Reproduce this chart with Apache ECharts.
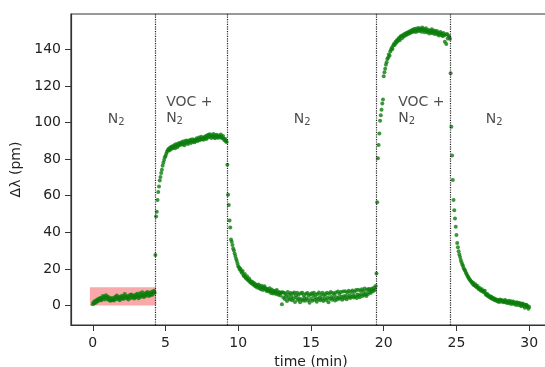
<!DOCTYPE html>
<html>
<head>
<meta charset="utf-8">
<script src="https://cdn.jsdelivr.net/npm/echarts@6/dist/echarts.min.js"></script>
<style>
    html, body { margin: 0; padding: 0; background: #fff; }
    #chart { width: 545px; height: 367px; }
</style>
</head>
<body>
<div id="chart"></div>
<script>
// sampling interval of the recording (min)
const SAMPLE_STEP = 0.05;

// wavelength shift, one row per minute (20 samples each)
const deltaLambda = [
    0.6, 1.8, 1.2, 2.4, 1.5, 2.9, 2.2, 3.4, 2.6, 3.8, 3.1, 4.2, 2.8, 3.6, 5.1, 4.0, 4.6, 3.3, 5.6, 4.2,
    4.9, 3.7, 3.0, 4.4, 2.6, 3.5, 2.9, 4.1, 3.2, 2.7, 3.9, 4.8, 3.4, 5.5, 4.2, 3.6, 4.7, 2.9, 3.8, 4.5,
    5.3, 4.0, 3.5, 4.9, 6.2, 4.6, 3.9, 5.2, 4.4, 3.3, 4.8, 5.7, 4.1, 6.0, 5.0, 4.3, 5.4, 3.8, 4.6, 5.9,
    4.5, 6.4, 5.2, 3.9, 5.0, 6.6, 4.8, 5.7, 7.2, 5.5, 4.6, 6.1, 5.0, 6.8, 5.9, 7.4, 6.3, 5.1, 6.9, 5.6,
    6.2, 7.5, 5.8, 7.0, 8.1, 6.9, 27.6, 48.6, 51.2, 57.7, 62.0, 65.1, 68.4, 70.3, 72.5, 74.2, 76.4, 78.0, 79.6, 81.0,
    81.8, 83.0, 84.1, 84.9, 85.6, 84.7, 86.2, 85.3, 86.8, 85.9, 87.1, 86.4, 87.6, 86.0, 88.1, 87.2, 86.5, 88.4, 87.5, 88.9,
    87.8, 88.6, 89.3, 88.0, 89.7, 88.4, 87.6, 89.9, 88.9, 90.2, 89.1, 88.3, 90.0, 89.4, 90.6, 88.8, 89.8, 90.9, 89.5, 90.3,
    89.2, 90.8, 90.1, 91.4, 89.9, 90.7, 91.8, 90.4, 91.2, 92.3, 90.9, 91.6, 90.6, 92.0, 91.3, 92.6, 91.0, 92.9, 91.7, 93.3,
    92.2, 93.6, 92.5, 91.6, 93.1, 92.4, 93.8, 92.0, 91.4, 92.8, 93.4, 92.1, 91.7, 93.0, 92.6, 91.9, 93.5, 92.3, 91.5, 92.7,
    91.3, 90.4, 91.0, 89.8, 89.4, 77.0, 60.5, 55.0, 46.5, 42.6, 36.0, 34.8, 33.0, 31.2, 30.0, 28.4, 27.0, 25.5, 24.3, 22.8,
    21.5, 20.8, 19.6, 20.1, 18.5, 17.9, 18.8, 16.7, 16.0, 17.2, 15.3, 14.8, 15.9, 14.0, 13.6, 14.7, 12.8, 13.3, 12.2, 13.0,
    11.6, 12.4, 10.9, 11.8, 10.3, 11.2, 9.8, 10.7, 11.5, 9.4, 10.2, 8.9, 10.8, 9.6, 8.5, 9.9, 10.5, 8.8, 9.3, 7.9,
    9.0, 8.2, 7.6, 9.4, 8.0, 6.8, 8.7, 7.3, 6.5, 8.1, 7.0, 7.8, 6.2, 8.4, 6.9, 5.8, 7.4, 6.6, 5.5, 7.1,
    0.6, 7.2, 4.4, 6.9, 3.5, 6.2, 5.0, 2.4, 7.4, 4.1, 6.0, 3.3, 6.8, 4.8, 2.9, 6.5, 3.9, 7.1, 1.9, 5.6,
    4.2, 6.9, 3.0, 5.9, 3.6, 1.7, 6.6, 3.4, 7.0, 2.7, 5.6, 4.0, 2.5, 6.4, 3.8, 6.8, 2.9, 5.3, 1.5, 6.1,
    3.5, 6.7, 2.6, 5.2, 7.0, 3.1, 5.9, 4.0, 2.0, 6.3, 3.4, 7.1, 4.3, 2.8, 5.8, 3.7, 6.9, 2.4, 5.5, 3.6,
    6.2, 3.0, 6.9, 4.3, 1.8, 6.4, 3.6, 7.3, 4.6, 3.1, 6.8, 4.0, 6.0, 2.7, 7.1, 4.5, 3.3, 7.6, 4.2, 6.3,
    3.7, 7.4, 4.8, 3.1, 7.6, 5.0, 3.9, 7.8, 5.3, 3.4, 7.1, 4.5, 8.0, 5.5, 4.1, 7.4, 4.8, 8.2, 5.7, 4.3,
    7.5, 4.9, 8.4, 4.0, 6.0, 8.6, 5.4, 4.5, 8.0, 6.1, 8.9, 5.1, 7.7, 5.8, 9.2, 6.4, 5.2, 8.5, 6.0, 9.0,
    7.2, 8.8, 6.8, 8.0, 9.2, 7.6, 8.6, 9.8, 8.4, 10.6, 17.5, 56.5, 80.5, 87.7, 94.0, 101.0, 104.0, 107.0, 110.5, 112.7,
    125.3, 127.5, 129.4, 131.6, 133.0, 134.8, 135.5, 137.2, 136.6, 138.9, 139.8, 141.0, 140.3, 142.2, 143.0, 142.4, 144.1, 143.6, 145.0, 144.4,
    145.6, 146.3, 145.1, 146.9, 147.4, 146.2, 147.8, 147.0, 148.3, 147.5, 148.8, 147.9, 149.2, 148.4, 149.6, 148.7, 150.0, 149.1, 150.4, 149.5,
    150.8, 149.8, 151.2, 150.3, 149.6, 151.5, 150.6, 149.9, 151.8, 150.9, 150.2, 151.3, 149.7, 152.0, 150.7, 151.1, 149.4, 150.5, 151.6, 150.0,
    149.3, 150.8, 149.9, 148.7, 150.2, 149.5, 151.0, 148.9, 149.7, 150.4, 148.4, 149.8, 148.9, 150.1, 148.2, 149.3, 147.6, 148.8, 149.6, 147.9,
    148.6, 147.3, 149.0, 147.7, 144.2, 148.2, 143.0, 148.5, 146.0, 147.6, 146.8, 145.9, 127.0, 97.8, 82.0, 68.6, 57.7, 52.0, 47.5, 43.0,
    38.5, 34.2, 31.8, 29.6, 27.9, 26.5, 24.8, 23.6, 22.4, 21.6, 20.4, 19.5, 19.0, 17.9, 17.2, 16.3, 15.6, 15.0, 14.2, 13.8,
    13.1, 12.8, 11.9, 12.4, 11.2, 10.9, 11.6, 10.3, 9.9, 10.6, 9.4, 8.8, 9.6, 8.5, 8.1, 8.9, 7.6, 7.9, 7.2, 8.0,
    6.2, 5.7, 6.4, 5.1, 5.6, 4.6, 5.0, 4.1, 4.7, 3.6, 4.2, 3.2, 3.8, 2.9, 3.4, 2.6, 3.1, 2.2, 2.8, 1.9,
    3.2, 2.5, 2.9, 2.0, 2.7, 1.8, 2.4, 3.0, 1.6, 2.2, 1.3, 2.0, 2.6, 1.1, 1.8, 2.3, 0.8, 1.5, 2.1, 1.0,
    1.6, 0.4, 1.3, 1.8, 0.2, 1.1, 1.5, 0.3, 1.0, -0.5, 0.6, 1.1, -0.2, 0.5, -1.2, 0.2, 0.4, -0.9, -0.3, -1.8,
    -0.8,
];

// gas switching times (min)
const switchTimes = [4.28, 9.21, 19.52, 24.58];

// baseline window highlighted in red: [time, dλ] corners
const baselineBox = [[-0.2, 0], [4.35, 10]];

// phase annotations: [time, dλ, text, align]
const phaseLabels = [
    [1.6, 102, 'N{s|2}', 'center'],
    [5.04, 106.7, 'VOC +\nN{s|2}', 'left'],
    [14.4, 102, 'N{s|2}', 'center'],
    [21.0, 106.7, 'VOC +\nN{s|2}', 'left'],
    [27.6, 102, 'N{s|2}', 'center'],
];

const xTicks = [0, 5, 10, 15, 20, 25, 30];
const yTicks = [0, 20, 40, 60, 80, 100, 120, 140];

const FONT = 'DejaVu Sans';
const TEXT_COLOR = '#222';
const AXIS_COLOR = '#333';

const points = deltaLambda.map((v, i) => [Number((i * SAMPLE_STEP).toFixed(2)), v]);

const chart = echarts.init(document.getElementById('chart'), null, { renderer: 'canvas' });

const option = {
    animation: false,
    textStyle: { fontFamily: FONT },
    grid: {
        left: 71,
        right: -6,
        top: 14,
        bottom: 42,
        outerBoundsMode: 'none',
        containLabel: false,
        show: true,
        borderColor: AXIS_COLOR,
        borderWidth: 1.2,
    },
    xAxis: {
        type: 'value',
        min: -1.5,
        max: 31.5,
        name: 'time (min)',
        nameLocation: 'middle',
        nameGap: 27,
        nameTextStyle: { fontSize: 14, color: TEXT_COLOR, fontFamily: FONT },
        axisLine: { show: true, onZero: false, lineStyle: { color: AXIS_COLOR, width: 1.2 } },
        axisTick: { show: true, length: 6, customValues: xTicks, lineStyle: { color: AXIS_COLOR } },
        axisLabel: { fontSize: 14, color: TEXT_COLOR, margin: 11, customValues: xTicks },
        splitLine: { show: false },
    },
    yAxis: {
        type: 'value',
        min: -10.7,
        max: 159.4,
        name: 'Δλ (pm)',
        nameLocation: 'middle',
        nameGap: 40,
        nameRotate: 90,
        nameTextStyle: { fontSize: 14, color: TEXT_COLOR, fontFamily: FONT },
        axisLine: { show: true, onZero: false, lineStyle: { color: AXIS_COLOR, width: 1.2 } },
        axisTick: { show: true, length: 6, customValues: yTicks, lineStyle: { color: AXIS_COLOR } },
        axisLabel: { fontSize: 14, color: TEXT_COLOR, margin: 10, customValues: yTicks },
        splitLine: { show: false },
    },
    series: [
        {
            name: 'signal',
            type: 'scatter',
            z: 2,
            symbolSize: 4,
            itemStyle: { color: '#0b7d0b' },
            data: points,
            markLine: {
                silent: true,
                symbol: ['none', 'none'],
                label: { show: false },
                lineStyle: { color: '#222', width: 1.2, type: 'dotted' },
                data: switchTimes.map((t) => ({ xAxis: t })),
            },
        },
        {
            name: 'baseline',
            type: 'scatter',
            z: 5,
            data: [],
            markArea: {
                silent: true,
                itemStyle: { color: 'rgba(240, 30, 30, 0.38)' },
                data: [[
                    { coord: baselineBox[0] },
                    { coord: baselineBox[1] },
                ]],
            },
        },
        {
            name: 'phases',
            type: 'scatter',
            z: 6,
            silent: true,
            symbolSize: 0,
            data: phaseLabels.map(([t, y, text, align]) => ({
                value: [t, y],
                label: {
                    show: true,
                    position: 'inside',
                    align,
                    verticalAlign: 'middle',
                    formatter: text,
                    fontSize: 14,
                    lineHeight: 16,
                    color: TEXT_COLOR,
                    fontFamily: FONT,
                    rich: {
                        s: { fontSize: 10, lineHeight: 16, color: TEXT_COLOR, fontFamily: FONT, verticalAlign: 'bottom' },
                    },
                },
            })),
        },
    ],
};

chart.setOption(option);
</script>
</body>
</html>
